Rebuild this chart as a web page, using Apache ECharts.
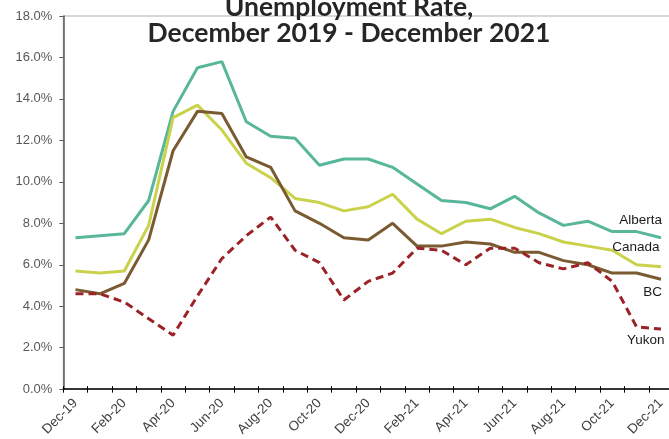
<!DOCTYPE html>
<html>
<head>
<meta charset="utf-8">
<script src="https://cdn.jsdelivr.net/npm/echarts@6/dist/echarts.min.js"></script>
<style>
html,body{margin:0;padding:0;background:#fff;overflow:hidden;width:669px;height:439px;}
#chart{width:680px;height:439px;}
</style>
</head>
<body>
<div id="chart"></div>
<script>
const categories = ['Dec-19','Jan-20','Feb-20','Mar-20','Apr-20','May-20','Jun-20','Jul-20','Aug-20','Sep-20','Oct-20','Nov-20','Dec-20',
  'Jan-21','Feb-21','Mar-21','Apr-21','May-21','Jun-21','Jul-21','Aug-21','Sep-21','Oct-21','Nov-21','Dec-21'];
const alberta = [7.3, 7.4, 7.5, 9.1, 13.4, 15.5, 15.8, 12.9, 12.2, 12.1, 10.8, 11.1, 11.1, 10.7, 9.9, 9.1, 9.0, 8.7, 9.3, 8.5, 7.9, 8.1, 7.6, 7.6, 7.3];
const canada  = [5.7, 5.6, 5.7, 7.9, 13.1, 13.7, 12.5, 10.9, 10.2, 9.2, 9.0, 8.6, 8.8, 9.4, 8.2, 7.5, 8.1, 8.2, 7.8, 7.5, 7.1, 6.9, 6.7, 6.0, 5.9];
const bc      = [4.8, 4.6, 5.1, 7.2, 11.5, 13.4, 13.3, 11.2, 10.7, 8.6, 8.0, 7.3, 7.2, 8.0, 6.9, 6.9, 7.1, 7.0, 6.6, 6.6, 6.2, 6.0, 5.6, 5.6, 5.3];
const yukon   = [4.6, 4.6, 4.2, 3.4, 2.6, 4.5, 6.3, 7.4, 8.3, 6.7, 6.1, 4.3, 5.2, 5.6, 6.8, 6.7, 6.0, 6.8, 6.8, 6.1, 5.8, 6.1, 5.2, 3.0, 2.9];
const yTicks = [0, 2, 4, 6, 8, 10, 12, 14, 16, 18];
const titleLines = ['Unemployment Rate,', 'December 2019 - December 2021'];

const font = '"Liberation Sans", Arial, sans-serif';

function withEndLabel(values, name, offset) {
  return values.map((v, i) => {
    if (i !== values.length - 1) return v;
    return {
      value: v,
      label: {
        show: true,
        formatter: name,
        position: 'inside',
        align: 'right',
        verticalAlign: 'middle',
        offset: offset,
        color: '#1a1a1a',
        opacity: 1,
        fontSize: 13.5,
        fontFamily: font
      }
    };
  });
}

function lineSeries(name, values, color, offset, dashed) {
  return {
    name: name,
    type: 'line',
    xAxisIndex: 0,
    data: withEndLabel(values, name, offset),
    symbol: 'circle',
    symbolSize: 0.01,
    showSymbol: true,
    itemStyle: { color: 'rgba(0,0,0,0)', borderWidth: 0 },
    lineStyle: { color: color, width: 3, type: dashed ? [8, 5] : 'solid', cap: 'butt' },
    label: { show: false },
    emphasis: { disabled: true },
    silent: true,
    z: 3
  };
}

const chart = echarts.init(document.getElementById('chart'), null, { renderer: 'canvas' });
chart.setOption({
  animation: false,
  backgroundColor: '#fff',
  title: {
    text: titleLines.join('\n'),
    left: 344,
    textAlign: 'center',
    top: -11,
    textStyle: {
      fontFamily: 'Lato, "Open Sans", sans-serif',
      fontWeight: 'bold',
      fontSize: 26.5,
      lineHeight: 26,
      color: '#262626'
    }
  },
  grid: {
    left: 63.3,
    right: 6.8,
    top: 16,
    bottom: 46.3,
    show: true,
    borderColor: '#b0b0b0',
    borderWidth: 1,
    backgroundColor: 'transparent'
  },
  xAxis: [
    {
      type: 'category',
      data: categories,
      boundaryGap: true,
      axisLine: { lineStyle: { color: '#000', width: 1.5 } },
      axisTick: { show: true, interval: 0, length: 3.5, lineStyle: { color: '#000', width: 1 } },
      axisLabel: {
        interval: 1,
        rotate: 45,
        margin: 12,
        color: '#404040',
        fontSize: 13.5,
        fontFamily: font
      },
      splitLine: { show: false }
    },
    {
      type: 'category',
      data: categories,
      boundaryGap: true,
      position: 'bottom',
      axisLine: { show: false },
      axisTick: { show: true, inside: true, interval: 0, length: 3, lineStyle: { color: '#000', width: 1 } },
      axisLabel: { show: false },
      splitLine: { show: false }
    }
  ],
  yAxis: {
    type: 'value',
    min: yTicks[0],
    max: yTicks[yTicks.length - 1],
    interval: 2,
    axisLine: { show: true, lineStyle: { color: '#595959', width: 1.5 } },
    axisTick: { show: true, length: 4, lineStyle: { color: '#595959' } },
    axisLabel: {
      margin: 11,
      color: '#595959',
      fontSize: 13,
      fontFamily: font,
      formatter: v => v.toFixed(1) + '%'
    },
    splitLine: { show: false }
  },
  series: [
    lineSeries('Alberta', alberta, '#58b79b', [1, -18], false),
    lineSeries('Canada', canada, '#c9d24a', [-1.5, -19.6], false),
    lineSeries('BC', bc, '#7a5a30', [1, 13.5], false),
    lineSeries('Yukon', yukon, '#9b2226', [3.5, 11], true)
  ]
});
</script>
</body>
</html>
